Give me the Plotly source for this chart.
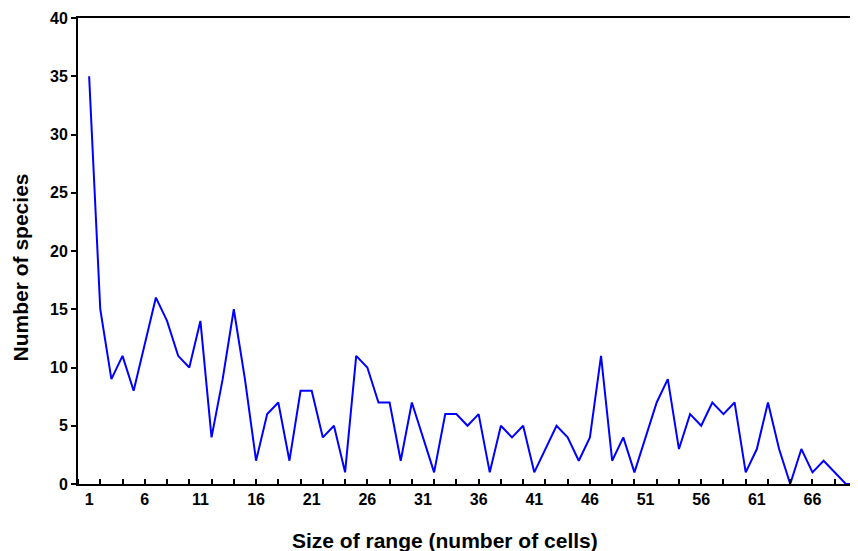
import plotly.graph_objects as go

range_size = list(range(1, 71))
species = [35, 15, 9, 11, 8, 12, 16, 14, 11, 10,
           14, 4, 9, 15, 9, 2, 6, 7, 2, 8,
           8, 4, 5, 1, 11, 10, 7, 7, 2, 7,
           4, 1, 6, 6, 5, 6, 1, 5, 4, 5,
           1, 3, 5, 4, 2, 4, 11, 2, 4, 1,
           4, 7, 9, 3, 6, 5, 7, 6, 7, 1,
           3, 7, 3, 0, 3, 1, 2, 1, 0, 0]
x_tick_vals = list(range(1, 70, 5))
y_tick_vals = list(range(0, 41, 5))

font_family = "Liberation Sans, Arial, sans-serif"

fig = go.Figure()
fig.add_trace(go.Scatter(x=range_size, y=species, mode="lines",
                         line=dict(color="#0000FF", width=2), showlegend=False))

fig.update_layout(
    width=850, height=543,
    margin=dict(l=70, r=1, t=10, b=67, autoexpand=False),
    plot_bgcolor="white", paper_bgcolor="white",
    font=dict(family=font_family, color="black"),
    annotations=[
        dict(text="<b>Size of range (number of cells)</b>", xref="paper", yref="paper",
             x=0.4705, y=0, yshift=-56, xanchor="center", yanchor="middle",
             showarrow=False, font=dict(size=21, family=font_family)),
        dict(text="<b>Number of species</b>", xref="paper", yref="paper",
             x=0, y=0.4648, xshift=-58, xanchor="center", yanchor="middle",
             textangle=-90, showarrow=False, font=dict(size=21, family=font_family)),
    ],
)
fig.update_xaxes(
    range=[0, 70], tickvals=x_tick_vals, ticktext=[str(v) for v in x_tick_vals],
    ticks="", ticklen=0, automargin=False,
    showgrid=False, zeroline=False,
    showline=True, linecolor="black", linewidth=2, mirror=True,
    tickfont=dict(size=16, family=font_family, weight="bold"),
    minor=dict(tickmode="linear", tick0=0, dtick=2, ticks="inside", ticklen=5,
               tickcolor="black", tickwidth=1.5, showgrid=False),
)
fig.update_yaxes(
    range=[0, 40], tickvals=y_tick_vals, automargin=False,
    ticks="outside", ticklen=5, tickcolor="black", tickwidth=1.5,
    showgrid=False, zeroline=False,
    showline=True, linecolor="black", linewidth=2, mirror="ticks",
    tickfont=dict(size=16, family=font_family, weight="bold"),
)

fig.write_html("out.html")
